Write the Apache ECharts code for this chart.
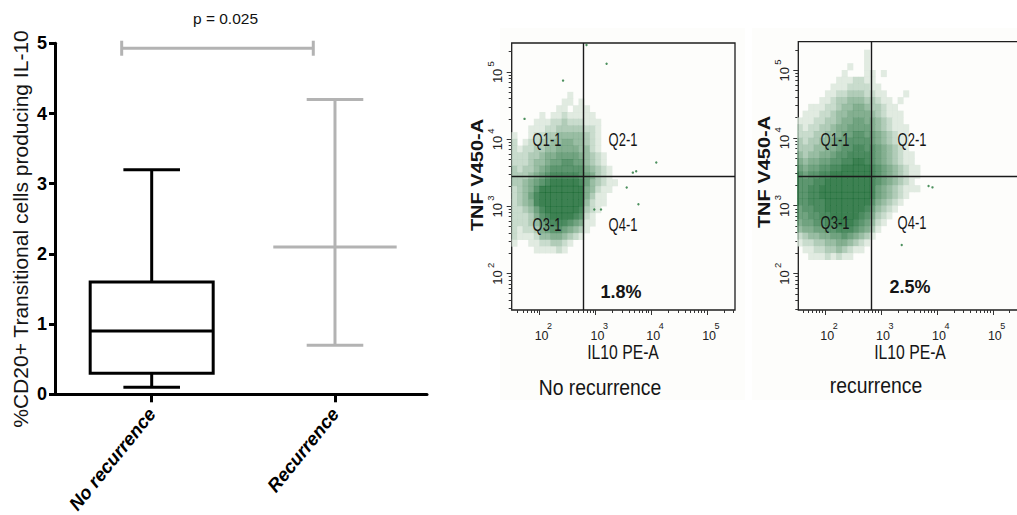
<!DOCTYPE html>
<html><head><meta charset="utf-8">
<script src="https://cdn.jsdelivr.net/npm/echarts@6/dist/echarts.min.js"></script>
<style>html,body{margin:0;padding:0;background:#fff}#c{width:1017px;height:515px}</style>
</head><body><div id="c"></div>
<script>
// ---------------- DATA ----------------
const categories = ['No recurrence', 'Recurrence'];
const noRecurrenceBox = [0.1, 0.3, 0.9, 1.6, 3.2];   // min, Q1, median, Q3, max
const recurrenceRange = [0.7, 2.1, 4.2];            // low, centre, high
const yAxisValueTicks = [0, 1, 2, 3, 4, 5];
const pValueText = 'p = 0.025';
const pBracketLevel = 4.93;

const flowMajorTicks = [2, 3, 4, 5];                 // exponents (10^n)
const flowMinorTickValues = [20,30,40,50,60,70,80,90,200,300,400,500,600,700,800,900,
  2000,3000,4000,5000,6000,7000,8000,9000,20000,30000,40000,50000,60000,70000,80000,90000,200000,300000,400000];
const flowXTitle = 'IL10 PE-A';
const flowYTitle = 'TNF V450-A';
const quadrantNames = ['Q1-1', 'Q2-1', 'Q3-1', 'Q4-1'];
const panelTitles = ['No recurrence', 'recurrence'];
const q4Percents = ['1.8%', '2.5%'];
// quadrant gates (log10 IL10, log10 TNF)
const gateNoRecurrence = [2.79, 3.44];
const gateRecurrence = [2.83, 3.435];

// density bins: 0.1-decade cells, columns from log10 IL10 = 1.5, rows downward from top edge
const binsNoRecurrence = { x0: 1.5, y0: 4.7, step: 0.1 };
const densityNoRecurrence = [
  "0000000000100000000000",
  "0000000001101000000000",
  "0000000011011100000000",
  "0000010112111110000000",
  "0000111223222111000000",
  "0001112233333221000000",
  "1001223344444321000000",
  "2012233445544321000000",
  "2122334455554421000000",
  "2223345566665432100000",
  "2223445667766432100000",
  "3233456777777543210000",
  "3334567888887653210000",
  "3345678999998643211000",
  "2345799999999542110000",
  "2346899999999531100000",
  "2345899999999421100000",
  "2234689999998321000000",
  "2223578999987210000000",
  "2223467888765110000000",
  "2122356776543100000000",
  "2111244554321000000000",
  "1001122332100000000000",
  "0000111121000000000000"
];
const outliersNoRecurrence = [[3.56,3.28],[3.77,3.03],[3.73,3.52],[4.09,3.65],[3.67,3.5],[2.42,4.87],[3.2,5.12],[2.84,5.4],[1.73,4.3],[2.98,2.95],[3.1,2.95]];

const binsRecurrence = { x0: 1.5, y0: 5.3, step: 0.1 };
const densityRecurrence = [
  "0000000000001000000000",
  "0000000000001000000000",
  "0000000001001000000000",
  "0000000010001101000000",
  "0000000111221100000000",
  "0000001112222110000000",
  "0000011223332211000100",
  "0000112334443321101000",
  "0011122344554332110000",
  "0111223445555432111000",
  "1112233455665543211000",
  "2122334556666543211100",
  "2223344566776654321100",
  "3233445667777654321100",
  "3334455677887765432100",
  "4344556778888765432110",
  "5455667788998765432110",
  "6566778899999876543211",
  "7677889999999876543211",
  "7778899999999876543210",
  "7788999999999865432111",
  "7788999999999865432100",
  "7788899999999754321000",
  "6778899999998643210000",
  "6677889999987532100000",
  "5667788999876421000000",
  "4556677888765310000000",
  "2344556676543100000000",
  "1223344554321000000000",
  "0112233432110000000000",
  "0011121211000000000000"
];
const outliersRecurrence = [[3.85,3.29],[3.37,2.42],[3.92,3.27]];

// ---------------- STYLE / BUILD ----------------
const FONT = '"Liberation Sans", Arial, Helvetica, sans-serif';
const GREEN = [12, 98, 40];
const BG = [253, 253, 251];
function mix(a) {
  const c = BG.map((b, i) => Math.round(b + (GREEN[i] - b) * a));
  return 'rgb(' + c.join(',') + ')';
}
const alphaFor = { 1: 0.15, 2: 0.27, 3: 0.4, 4: 0.52, 5: 0.63, 6: 0.73, 7: 0.83, 8: 0.92, 9: 1.0 };
function cellsFrom(rows, bins, outliers) {
  const out = [];
  rows.forEach((row, r) => {
    for (let c = 0; c < row.length; c++) {
      const d = +row[c];
      if (!d) continue;
      const x = bins.x0 + (c + 0.5) * bins.step;
      const y = bins.y0 - (r + 0.5) * bins.step;
      out.push({ value: [x, y], symbol: 'rect', symbolSize: [6.0, 7.1], itemStyle: { color: mix(alphaFor[d]) } });
    }
  });
  outliers.forEach(p => out.push({ value: p, symbol: 'circle', symbolSize: 2.4, itemStyle: { color: '#1f7436' } }));
  return out;
}
const minorLogs = flowMinorTickValues.map(v => Math.log10(v));

const flowRanges = [
  { x: [1.5, 5.5], y: [1.455, 5.43] },
  { x: [1.52, 5.634], y: [1.46, 5.42] }
];

function flowAxes(gi, range) {
  const tick = (vals, len) => ({ show: true, customValues: vals, length: len, lineStyle: { color: '#333', width: 1 } });
  const xs = [
    { gridIndex: gi, type: 'value', min: range.x[0], max: range.x[1], position: 'bottom',
      axisLine: { show: false }, splitLine: { show: false }, axisLabel: { show: false },
      axisTick: tick(flowMajorTicks, 5) },
    { gridIndex: gi, type: 'value', min: range.x[0], max: range.x[1], position: 'bottom',
      axisLine: { show: false }, splitLine: { show: false }, axisLabel: { show: false },
      axisTick: tick(minorLogs.filter(v => v > range.x[0] && v < range.x[1]), 3) }
  ];
  const ys = [
    { gridIndex: gi, type: 'value', min: range.y[0], max: range.y[1], position: 'left',
      axisLine: { show: false }, splitLine: { show: false }, axisLabel: { show: false },
      axisTick: tick(flowMajorTicks, 5) },
    { gridIndex: gi, type: 'value', min: range.y[0], max: range.y[1], position: 'left',
      axisLine: { show: false }, splitLine: { show: false }, axisLabel: { show: false },
      axisTick: tick(minorLogs.filter(v => v > range.y[0] && v < range.y[1]), 3) }
  ];
  return { xs, ys };
}
const fa1 = flowAxes(1, flowRanges[0]);
const fa2 = flowAxes(2, flowRanges[1]);

function textEl(text, x, y, font, extra) {
  return Object.assign({ type: 'text', x: x, y: y,
    style: { text: text, font: font, fill: '#222', align: 'center', verticalAlign: 'middle', textAlign: 'center', textVerticalAlign: 'middle' } }, extra || {});
}
function tickLabelSeries(axisIdx, range) {
  const data = flowMajorTicks.map(v => [v, 0]).concat(flowMajorTicks.map(v => [v, 1]));
  return {
    type: 'custom', xAxisIndex: axisIdx, yAxisIndex: axisIdx, silent: true, clip: false,
    data: data,
    renderItem: function (params, api) {
      const v = api.value(0), kind = api.value(1);
      if (kind === 0) {
        const p = api.coord([v, range.y[0]]);
        return { type: 'group', children: [
          textEl('10', p[0] + 2, p[1] + 26, '12.5px ' + FONT),
          textEl(String(v), p[0] + 10, p[1] + 16, '9px ' + FONT)
        ] };
      } else {
        const p = api.coord([range.x[0], v]);
        return { type: 'group', children: [
          textEl('10', p[0] - 14, p[1] + 4, '13px ' + FONT, { rotation: Math.PI / 2 }),
          textEl(String(v), p[0] - 21, p[1] - 8, '9.5px ' + FONT, { rotation: Math.PI / 2 })
        ] };
      }
    }
  };
}

function txt(text, x, y, font, opts) {
  return Object.assign({ type: 'text', x: x, y: y, z: 100,
    style: { text: text, font: font, fill: '#151515', textAlign: 'center', textVerticalAlign: 'middle', align: 'center', verticalAlign: 'middle' } }, opts || {});
}

const BLACK = '#000';
const GRAY = '#b3b3b3';

const option = {
  animation: false,
  backgroundColor: '#fff',
  textStyle: { fontFamily: FONT },
  grid: [
    { left: 55, top: 43.3, width: 372, height: 351, outerBoundsMode: 'none', containLabel: false },
    { left: 511.7, top: 43, width: 223.3, height: 267, show: true, borderColor: '#1e1e1e', borderWidth: 1.3, backgroundColor: 'transparent', outerBoundsMode: 'none', containLabel: false },
    { left: 798.3, top: 41.7, width: 230, height: 268.3, show: true, borderColor: '#1e1e1e', borderWidth: 1.3, backgroundColor: 'transparent', outerBoundsMode: 'none', containLabel: false }
  ],
  xAxis: [
    { gridIndex: 0, type: 'value', min: -0.5275, max: 1.502,
      axisLine: { show: true, onZero: false, lineStyle: { color: BLACK, width: 3 } },
      splitLine: { show: false },
      axisTick: { show: true, customValues: [0, 1], length: 8, lineStyle: { color: BLACK, width: 3 } },
      axisLabel: { customValues: [0, 1], formatter: v => categories[Math.round(v)], rotate: 51, margin: 16,
        fontWeight: 'bold', fontStyle: 'italic', fontSize: 18.5, color: BLACK, fontFamily: FONT } }
  ].concat(fa1.xs, fa2.xs),
  yAxis: [
    { gridIndex: 0, type: 'value', min: 0, max: 5, interval: 1,
      axisLine: { show: true, onZero: false, lineStyle: { color: BLACK, width: 3 } },
      splitLine: { show: false },
      axisTick: { show: true, length: 6, lineStyle: { color: BLACK, width: 3 } },
      axisLabel: { fontWeight: 'bold', fontSize: 18, color: BLACK, margin: 8, fontFamily: FONT,
        customValues: yAxisValueTicks } }
  ].concat(fa1.ys, fa2.ys),
  series: [
    // No recurrence box-and-whisker
    { type: 'custom', xAxisIndex: 0, yAxisIndex: 0, silent: true,
      data: [[0].concat(noRecurrenceBox)],
      renderItem: function (params, api) {
        const x = api.value(0);
        const pMin = api.coord([x, api.value(1)]), pQ1 = api.coord([x, api.value(2)]),
              pMed = api.coord([x, api.value(3)]), pQ3 = api.coord([x, api.value(4)]), pMax = api.coord([x, api.value(5)]);
        const cx = pMed[0], hb = 61.5, hc = 28.3;
        const st = { stroke: BLACK, lineWidth: 3, fill: null };
        return { type: 'group', children: [
          { type: 'line', shape: { x1: cx, y1: pMin[1], x2: cx, y2: pQ1[1] }, style: st },
          { type: 'line', shape: { x1: cx, y1: pQ3[1], x2: cx, y2: pMax[1] }, style: st },
          { type: 'line', shape: { x1: cx - hc, y1: pMin[1], x2: cx + hc, y2: pMin[1] }, style: st },
          { type: 'line', shape: { x1: cx - hc, y1: pMax[1], x2: cx + hc, y2: pMax[1] }, style: st },
          { type: 'rect', shape: { x: cx - hb, y: pQ3[1], width: 2 * hb, height: pQ1[1] - pQ3[1] }, style: { stroke: BLACK, lineWidth: 3, fill: '#fff' } },
          { type: 'line', shape: { x1: cx - hb, y1: pMed[1], x2: cx + hb, y2: pMed[1] }, style: st }
        ] };
      } },
    // Recurrence range
    { type: 'custom', xAxisIndex: 0, yAxisIndex: 0, silent: true,
      data: [[1].concat(recurrenceRange)],
      renderItem: function (params, api) {
        const x = api.value(0);
        const pLo = api.coord([x, api.value(1)]), pMid = api.coord([x, api.value(2)]), pHi = api.coord([x, api.value(3)]);
        const cx = pMid[0], hb = 61.7, hc = 28.3;
        const st = { stroke: GRAY, lineWidth: 3, fill: null };
        return { type: 'group', children: [
          { type: 'line', shape: { x1: cx, y1: pLo[1], x2: cx, y2: pHi[1] }, style: st },
          { type: 'line', shape: { x1: cx - hc, y1: pLo[1], x2: cx + hc, y2: pLo[1] }, style: st },
          { type: 'line', shape: { x1: cx - hc, y1: pHi[1], x2: cx + hc, y2: pHi[1] }, style: st },
          { type: 'line', shape: { x1: cx - hb, y1: pMid[1], x2: cx + hb, y2: pMid[1] }, style: st }
        ] };
      } },
    // significance bracket
    { type: 'custom', xAxisIndex: 0, yAxisIndex: 0, silent: true, clip: false,
      data: [[0, 1, pBracketLevel]],
      renderItem: function (params, api) {
        const a = api.coord([api.value(0), api.value(2)]), b = api.coord([api.value(1), api.value(2)]);
        const x1 = a[0] - 30, x2 = b[0] - 21.7, y = a[1];
        const st = { stroke: GRAY, lineWidth: 3 };
        return { type: 'group', children: [
          { type: 'line', shape: { x1: x1, y1: y, x2: x2, y2: y }, style: st },
          { type: 'line', shape: { x1: x1, y1: y - 7.5, x2: x1, y2: y + 7.5 }, style: st },
          { type: 'line', shape: { x1: x2, y1: y - 7.5, x2: x2, y2: y + 7.5 }, style: st },
          { type: 'text', x: (x1 + x2) / 2 + 8, y: y - 30,
            style: { text: pValueText, font: '15.5px ' + FONT, fill: '#111', align: 'center', verticalAlign: 'middle', textAlign: 'center', textVerticalAlign: 'middle' } }
        ] };
      } },
    // flow clouds
    { type: 'scatter', xAxisIndex: 1, yAxisIndex: 1, silent: true,
      data: cellsFrom(densityNoRecurrence, binsNoRecurrence, outliersNoRecurrence),
      markLine: { silent: true, symbol: ['none', 'none'], label: { show: false },
        lineStyle: { color: '#1a1a1a', width: 1.4, type: 'solid' },
        data: [{ xAxis: gateNoRecurrence[0] }, { yAxis: gateNoRecurrence[1] }] } },
    { type: 'scatter', xAxisIndex: 3, yAxisIndex: 3, silent: true,
      data: cellsFrom(densityRecurrence, binsRecurrence, outliersRecurrence),
      markLine: { silent: true, symbol: ['none', 'none'], label: { show: false },
        lineStyle: { color: '#1a1a1a', width: 1.4, type: 'solid' },
        data: [{ xAxis: gateRecurrence[0] }, { yAxis: gateRecurrence[1] }] } },
    tickLabelSeries(1, flowRanges[0]),
    tickLabelSeries(3, flowRanges[1])
  ],
  graphic: [
    { type: 'rect', z: -1, shape: { x: 500, y: 28, width: 245, height: 372 }, style: { fill: 'rgb(253,253,251)' } },
    { type: 'rect', z: -1, shape: { x: 752, y: 28, width: 265, height: 372 }, style: { fill: 'rgb(253,253,251)' } },
    txt('%CD20+ Transitional cells producing IL-10', 20, 229, '21px ' + FONT, { rotation: Math.PI / 2 }),
    txt(flowYTitle, 478, 175, 'bold 20px ' + FONT, { rotation: Math.PI / 2, scaleY: 0.8 }),
    txt(flowYTitle, 765, 172, 'bold 20px ' + FONT, { rotation: Math.PI / 2, scaleY: 0.8 }),
    txt(flowXTitle, 623, 352, '21px ' + FONT, { scaleX: 0.75 }),
    txt(flowXTitle, 910, 352, '21px ' + FONT, { scaleX: 0.75 }),
    txt(panelTitles[0], 600, 387, '22px ' + FONT, { scaleX: 0.88 }),
    txt(panelTitles[1], 876, 385, '22px ' + FONT, { scaleX: 0.88 }),
    txt(q4Percents[0], 621, 292, 'bold 18px ' + FONT),
    txt(q4Percents[1], 910, 287, 'bold 18px ' + FONT),
    txt(quadrantNames[0], 547, 140, '18px ' + FONT, { scaleX: 0.72 }),
    txt(quadrantNames[1], 623, 140, '18px ' + FONT, { scaleX: 0.72 }),
    txt(quadrantNames[2], 547, 225, '18px ' + FONT, { scaleX: 0.72 }),
    txt(quadrantNames[3], 623, 225, '18px ' + FONT, { scaleX: 0.72 }),
    txt(quadrantNames[0], 835, 140, '18px ' + FONT, { scaleX: 0.72 }),
    txt(quadrantNames[1], 912, 140, '18px ' + FONT, { scaleX: 0.72 }),
    txt(quadrantNames[2], 835, 223, '18px ' + FONT, { scaleX: 0.72 }),
    txt(quadrantNames[3], 912, 223, '18px ' + FONT, { scaleX: 0.72 })
  ]
};

const chart = echarts.init(document.getElementById('c'), null, { renderer: 'svg', width: 1017, height: 515 });
chart.setOption(option);
</script>
</body></html>
